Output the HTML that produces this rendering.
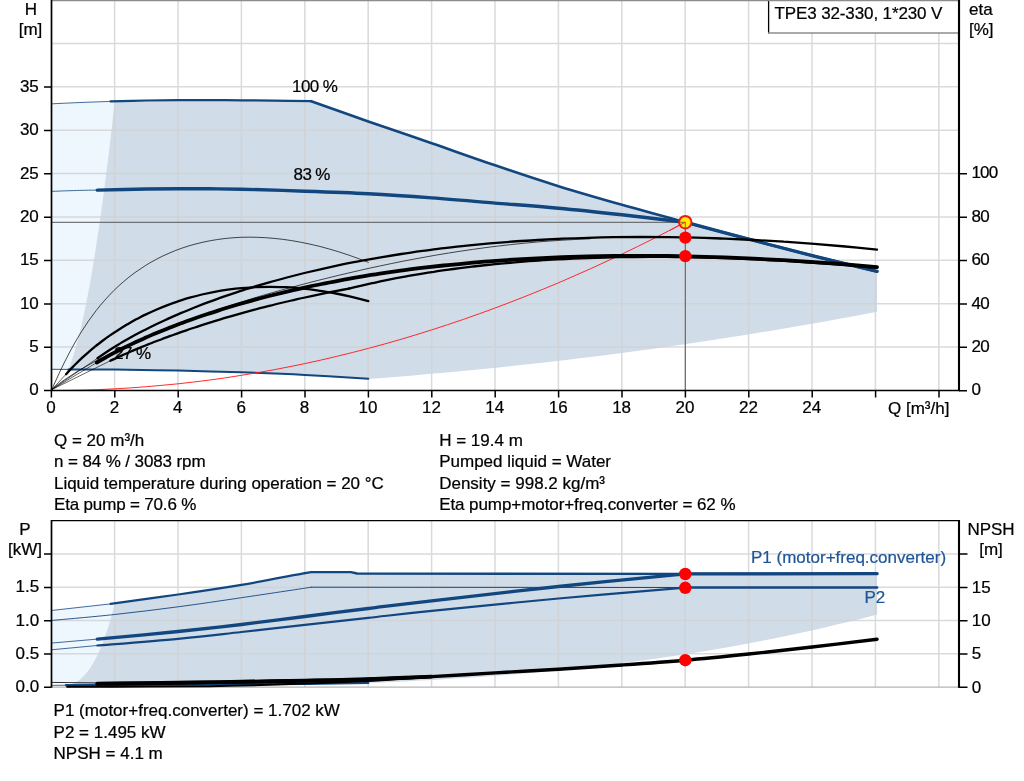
<!DOCTYPE html>
<html lang="en">
<head>
<meta charset="utf-8">
<title>TPE3 32-330, 1*230 V</title>
<style>
html,body{margin:0;padding:0;background:#fff;}
body{width:1024px;height:781px;overflow:hidden;}
svg{display:block;}
</style>
</head>
<body>
<svg width="1024" height="781" viewBox="0 0 1024 781">
<rect x="0" y="0" width="1024" height="781" fill="#ffffff"/>
<path d="M51.3 103.8 L83 102.4 L110.6 101.4 L114.7 101.2 L114.7 101.2 L113.1 115.6 L111.5 129.6 L109.9 143.3 L108.3 156.5 L106.7 169.4 L105.1 182 L103.5 194.2 L101.9 206 L100.3 217.4 L98.7 228.5 L97.1 239.2 L95.5 249.6 L94 259.6 L92.4 269.2 L90.8 278.4 L89.2 287.3 L87.6 295.8 L86 304 L84.4 311.8 L82.8 319.2 L81.2 326.2 L79.6 332.9 L78 339.2 L76.4 345.2 L74.8 350.7 L73.2 356 L71.6 360.8 L70 365.3 L68.4 369.4 L51.3 369.3 Z" fill="#eef6fe"/>
<path d="M110.6 101.4 L112.3 101.3 L114.5 101.3 L117.1 101.2 L120 101.1 L123.2 101.1 L126.5 101 L130 100.9 L133.4 100.8 L136.9 100.7 L140.3 100.6 L143.4 100.6 L146.4 100.5 L149.2 100.5 L151.9 100.4 L154.6 100.4 L157.3 100.4 L159.9 100.3 L162.5 100.3 L165.1 100.3 L167.7 100.2 L170.3 100.2 L172.9 100.2 L175.5 100.2 L178.1 100.2 L180.7 100.2 L183.4 100.1 L186 100.1 L188.7 100.1 L191.3 100.1 L194 100.1 L196.6 100.1 L199.2 100.1 L201.9 100.1 L204.5 100.1 L207.2 100.1 L209.8 100.1 L212.4 100.1 L215.1 100.1 L217.7 100.1 L220.4 100.1 L223 100.1 L225.7 100.1 L228.3 100.2 L230.9 100.2 L233.6 100.2 L236.2 100.2 L238.9 100.2 L241.5 100.3 L244.1 100.3 L246.7 100.3 L249.3 100.3 L251.8 100.4 L254.4 100.4 L257 100.4 L259.5 100.5 L262.2 100.5 L264.8 100.6 L267.5 100.6 L270.3 100.6 L273.2 100.7 L276.3 100.7 L279.6 100.8 L283.2 100.8 L286.8 100.9 L290.5 100.9 L294.2 101 L297.8 101 L301.1 101.1 L304.3 101.1 L307 101.2 L309.4 101.2 L311.2 101.2 L314 102.2 L317.4 103.4 L321.3 104.8 L325.8 106.4 L330.6 108.2 L335.8 110 L341.2 111.9 L346.7 113.9 L352.3 115.9 L357.8 117.8 L363.1 119.7 L368.3 121.5 L373.4 123.3 L378.5 125 L383.7 126.8 L389 128.6 L394.3 130.4 L399.6 132.2 L405 134.1 L410.3 135.9 L415.7 137.7 L421.1 139.5 L426.4 141.4 L431.7 143.2 L437 145 L442.3 146.9 L447.6 148.7 L452.8 150.6 L458.1 152.5 L463.4 154.3 L468.7 156.2 L474 158 L479.2 159.9 L484.5 161.7 L489.8 163.5 L495.1 165.3 L500.4 167.1 L505.7 168.9 L510.9 170.7 L516.2 172.5 L521.5 174.2 L526.8 176 L532.1 177.7 L537.4 179.4 L542.6 181.1 L547.9 182.8 L553.2 184.5 L558.5 186.2 L563.8 187.8 L569.1 189.4 L574.4 191 L579.6 192.6 L584.9 194.1 L590.2 195.7 L595.5 197.2 L600.8 198.8 L606 200.3 L611.3 201.8 L616.6 203.3 L621.9 204.8 L627.2 206.3 L632.5 207.8 L637.8 209.3 L643 210.7 L648.3 212.2 L653.6 213.6 L658.9 215 L664.2 216.5 L669.4 217.9 L674.7 219.3 L680 220.7 L685.3 222.2 L690.6 223.6 L695.9 225 L701.1 226.4 L706.4 227.9 L711.7 229.3 L717 230.7 L722.3 232.1 L727.6 233.5 L732.8 234.9 L738.1 236.3 L743.4 237.7 L748.7 239.1 L754 240.5 L759.2 241.9 L764.5 243.3 L769.8 244.6 L775 246 L780.3 247.4 L785.6 248.8 L790.8 250.1 L796.1 251.5 L801.4 252.9 L806.8 254.2 L812.1 255.6 L817.7 257 L823.6 258.4 L829.8 259.9 L836.1 261.5 L842.4 263 L848.6 264.5 L854.5 265.9 L860.2 267.3 L865.4 268.5 L870 269.7 L873.9 270.6 L877.1 271.4 L877.1 311.8 L864 314.3 L851 316.7 L837.9 319.1 L824.9 321.4 L811.9 323.7 L798.8 326 L785.8 328.2 L772.7 330.4 L759.7 332.6 L746.6 334.7 L733.6 336.8 L720.5 338.8 L707.5 340.8 L694.4 342.8 L681.4 344.7 L668.4 346.6 L655.3 348.4 L642.3 350.2 L629.2 352 L616.2 353.7 L603.1 355.4 L590.1 357 L577 358.6 L564 360.2 L550.9 361.7 L537.9 363.2 L524.8 364.6 L511.8 366 L498.8 367.4 L485.7 368.7 L472.7 370 L459.6 371.3 L446.6 372.5 L433.5 373.6 L420.5 374.8 L407.4 375.9 L394.4 376.9 L381.3 377.9 L368.3 378.9 L368.3 378.8 L365.2 378.6 L361.4 378.3 L356.9 378.1 L351.9 377.7 L346.4 377.4 L340.6 377 L334.5 376.6 L328.4 376.2 L322.2 375.9 L316.2 375.5 L310.4 375.2 L304.9 374.9 L299.6 374.6 L294.3 374.4 L289 374.1 L283.8 373.9 L278.5 373.7 L273.2 373.4 L267.9 373.2 L262.6 373 L257.3 372.8 L252.1 372.6 L246.8 372.5 L241.5 372.3 L236.2 372.1 L230.9 371.9 L225.7 371.8 L220.4 371.6 L215.1 371.5 L209.8 371.4 L204.5 371.2 L199.2 371.1 L193.9 371 L188.7 370.9 L183.4 370.7 L178.1 370.6 L172.8 370.5 L167.3 370.4 L161.8 370.3 L156.3 370.2 L150.8 370.1 L145.3 370 L139.9 369.9 L134.6 369.8 L129.3 369.8 L124.3 369.7 L119.4 369.6 L114.7 369.6 L110.1 369.5 L105.5 369.5 L100.8 369.5 L96.3 369.5 L91.9 369.4 L87.6 369.4 L83.6 369.4 L79.8 369.4 L76.3 369.4 L73.3 369.4 L70.6 369.4 L68.4 369.4 L70 365.3 L71.6 360.8 L73.2 356 L74.8 350.7 L76.4 345.2 L78 339.2 L79.6 332.9 L81.2 326.2 L82.8 319.2 L84.4 311.8 L86 304 L87.6 295.8 L89.2 287.3 L90.8 278.4 L92.4 269.2 L94 259.6 L95.5 249.6 L97.1 239.2 L98.7 228.5 L100.3 217.4 L101.9 206 L103.5 194.2 L105.1 182 L106.7 169.4 L108.3 156.5 L109.9 143.3 L111.5 129.6 L113.1 115.6 L114.7 101.2 Z" fill="#d0dce8"/>
<path d="M51.3 610.5 L110.6 603.9 L114.7 603.3 L114.7 603.9 L113.5 608.6 L112.3 613.1 L111 617.4 L109.8 621.6 L108.6 625.6 L107.4 629.5 L106.2 633.1 L104.9 636.7 L103.7 640 L102.5 643.2 L101.3 646.3 L100.1 649.2 L98.8 652 L97.6 654.6 L96.4 657.1 L95.2 659.5 L94 661.7 L92.8 663.8 L91.5 665.8 L90.3 667.7 L89.1 669.5 L87.9 671.1 L86.7 672.7 L85.4 674.1 L84.2 675.4 L83 676.7 L81.8 677.8 L80.6 678.9 L79.3 679.9 L78.1 680.8 L76.9 681.6 L75.7 682.4 L74.5 682.4 L73.2 682.4 L72 682.4 L70.8 682.4 L69.6 682.4 L68.4 682.4 L67.1 682.4 L51.3 682.4 Z" fill="#eef6fe"/>
<path d="M110.6 603.9 L178.1 594.5 L241.5 584.9 L304.9 573.1 L311.2 572.1 L350.9 572.1 L357.2 573.5 L685.3 573.9 L877.1 573.7 L877.1 614.5 L864 617.9 L851 621.2 L837.9 624.3 L824.9 627.4 L811.9 630.4 L798.8 633.3 L785.8 636 L772.7 638.7 L759.7 641.3 L746.6 643.8 L733.6 646.2 L720.5 648.5 L707.5 650.7 L694.4 652.8 L681.4 654.9 L668.4 656.8 L655.3 658.7 L642.3 660.5 L629.2 662.2 L616.2 663.9 L603.1 665.4 L590.1 666.9 L577 668.4 L564 669.7 L550.9 671 L537.9 672.2 L524.8 673.4 L511.8 674.5 L498.8 675.6 L485.7 676.5 L472.7 677.5 L459.6 678.3 L446.6 679.1 L433.5 679.9 L420.5 680.6 L407.4 681.3 L394.4 681.9 L381.3 682.5 L368.3 683 L67.1 684.8 L68.4 684.8 L69.6 684.8 L70.8 684.7 L72 684.2 L73.2 683.6 L74.5 683 L75.7 682.4 L76.9 681.6 L78.1 680.8 L79.3 679.9 L80.6 678.9 L81.8 677.8 L83 676.7 L84.2 675.4 L85.4 674.1 L86.7 672.7 L87.9 671.1 L89.1 669.5 L90.3 667.7 L91.5 665.8 L92.8 663.8 L94 661.7 L95.2 659.5 L96.4 657.1 L97.6 654.6 L98.8 652 L100.1 649.2 L101.3 646.3 L102.5 643.2 L103.7 640 L104.9 636.7 L106.2 633.1 L107.4 629.5 L108.6 625.6 L109.8 621.6 L111 617.4 L112.3 613.1 L113.5 608.6 L114.7 603.9 Z" fill="#d0dce8"/>
<path d="M114.6 0.5V390M114.6 521V687M178 0.5V390M178 521V687M241.4 0.5V390M241.4 521V687M304.8 0.5V390M304.8 521V687M368.2 0.5V390M368.2 521V687M431.6 0.5V390M431.6 521V687M495 0.5V390M495 521V687M558.4 0.5V390M558.4 521V687M621.8 0.5V390M621.8 521V687M685.2 0.5V390M685.2 521V687M748.6 0.5V390M748.6 521V687M812 0.5V390M812 521V687M875.4 0.5V390M875.4 521V687M938.8 0.5V390M938.8 521V687M52 347.1H959M52 303.7H959M52 260.3H959M52 217H959M52 173.6H959M52 130.2H959M52 86.8H959M52 43.4H959M52 653.8H959M52 620.5H959M52 587.2H959M52 553.9H959" stroke="#cfd1d3" stroke-opacity="0.8" stroke-width="1.5" fill="none"/>
<path d="M51 0.5H960" stroke="#8c8c8c" stroke-width="1.4" fill="none"/>
<path d="M51 687.2H960" stroke="#b4b4b4" stroke-width="1.2" fill="none"/>
<path d="M51.5 222.3 H685.3 V390" stroke="#4a4a4a" stroke-width="0.9" fill="none"/>
<path d="M51.3 103.8 C56.6 103.6 73.1 102.8 83 102.4 C92.9 102 106 101.6 110.6 101.4" stroke="#12467f" stroke-width="0.8" fill="none" stroke-linecap="round" stroke-linejoin="round"/>
<path d="M110.6 101.4 C116.5 101.2 135.1 100.7 146.4 100.5 C157.7 100.3 167.5 100.2 178.1 100.2 C188.7 100.1 199.2 100.1 209.8 100.1 C220.4 100.1 230.9 100.2 241.5 100.3 C252.1 100.4 261.6 100.5 273.2 100.7 C284.8 100.8 304.9 101.1 311.2 101.2 " stroke="#12467f" stroke-width="2.2" fill="none" stroke-linecap="round" stroke-linejoin="round"/>
<path d="M311.2 101.2 C320.8 104.6 348.2 114.5 368.3 121.5 C388.4 128.5 410.6 135.9 431.7 143.2 C452.8 150.5 474 158.2 495.1 165.3 C516.2 172.5 537.4 179.6 558.5 186.2 C579.6 192.7 600.8 198.8 621.9 204.8 C643 210.8 664.2 216.5 685.3 222.2 C706.4 227.9 727.6 233.5 748.7 239.1 C769.8 244.7 790.7 250.2 812.1 255.6 C833.5 261 866.3 268.7 877.1 271.4" stroke="#12467f" stroke-width="2.6" fill="none" stroke-linecap="round" stroke-linejoin="round"/>
<path d="M51.3 191.4 C55.5 191.2 69 190.7 76.7 190.5 C84.3 190.3 93.8 190.1 97.3 190.1" stroke="#12467f" stroke-width="0.8" fill="none" stroke-linecap="round" stroke-linejoin="round"/>
<path d="M97.3 190.1 C105.5 189.9 132.9 189.2 146.4 189 C159.9 188.8 167.5 188.8 178.1 188.8 C188.7 188.7 199.2 188.8 209.8 188.8 C220.4 188.9 225.7 188.8 241.5 189.2 C257.4 189.6 283.8 190.4 304.9 191.2 C326 191.9 347.2 192.6 368.3 193.7 C389.4 194.8 410.6 196.3 431.7 197.9 C452.8 199.4 474 201.3 495.1 203.1 C516.2 204.8 537.4 206.3 558.5 208.3 C579.6 210.2 600.8 212.5 621.9 214.8 C643 217.1 674.7 220.9 685.3 222.2" stroke="#12467f" stroke-width="3.4" fill="none" stroke-linecap="round" stroke-linejoin="round"/>
<path d="M685.3 222.2 C695.9 225 727.6 233.5 748.7 239.1 C769.8 244.7 790.7 250.2 812.1 255.6 C833.5 261 866.3 268.7 877.1 271.4" stroke="#12467f" stroke-width="3.3" fill="none" stroke-linecap="round" stroke-linejoin="round"/>
<path d="M51.3 369.3 L68.4 369.4" stroke="#12467f" stroke-width="0.9" fill="none" stroke-linecap="round" stroke-linejoin="round"/>
<path d="M68.4 369.4 C76.1 369.4 96.4 369.4 114.7 369.6 C133 369.8 157 370.2 178.1 370.6 C199.2 371.1 220.4 371.6 241.5 372.3 C262.6 373 283.8 373.8 304.9 374.9 C326 376 357.7 378.1 368.3 378.8" stroke="#12467f" stroke-width="2.0" fill="none" stroke-linecap="round" stroke-linejoin="round"/>
<path d="M51.3 390.5 L67.1 390.4 L83 390.1 L98.8 389.6 L114.7 388.8 L130.6 387.9 L146.4 386.7 L162.2 385.3 L178.1 383.8 L193.9 382 L209.8 380 L225.6 377.8 L241.5 375.3 L257.3 372.7 L273.2 369.9 L289.1 366.8 L304.9 363.6 L320.8 360.1 L336.6 356.4 L352.4 352.5 L368.3 348.4 L384.1 344.1 L400 339.6 L415.9 334.8 L431.7 329.9 L447.6 324.7 L463.4 319.4 L479.2 313.8 L495.1 308 L510.9 302 L526.8 295.8 L542.6 289.4 L558.5 282.8 L574.3 275.9 L590.2 268.9 L606 261.6 L621.9 254.1 L637.7 246.5 L653.6 238.6 L669.4 230.5 L685.3 222.2" stroke="#ff2020" stroke-width="0.95" fill="none"/>
<path d="M51.8 389.6 C52.3 388.4 53.9 384.9 55.1 382.2 C56.3 379.6 57.6 376.7 59 373.6 C60.5 370.6 62 367.4 63.6 364 C65.3 360.7 67 357.2 68.9 353.7 C70.7 350.2 72.7 346.5 74.8 342.9 C76.8 339.3 79 335.6 81.3 331.9 C83.6 328.3 86 324.6 88.5 321 C91 317.4 93.6 313.9 96.3 310.4 C99 306.9 101.8 303.5 104.8 300.2 C107.7 296.9 110.8 293.6 113.9 290.5 C117.1 287.4 120.3 284.4 123.7 281.5 C127.1 278.6 130.5 275.9 134.1 273.2 C137.7 270.6 141.4 268.1 145.2 265.7 C149 263.3 152.9 261.1 156.9 259 C160.9 256.9 165 254.9 169.3 253.1 C173.5 251.2 177.9 249.5 182.3 248 C186.7 246.5 191.3 245.1 196 243.9 C200.6 242.7 205.4 241.6 210.3 240.7 C215.2 239.8 220.2 239.1 225.2 238.5 C230.3 237.9 235.5 237.6 240.9 237.3 C246.2 237.1 251.6 237.1 257.1 237.3 C262.6 237.5 268.3 237.8 274 238.4 C279.8 238.9 285.6 239.6 291.6 240.6 C297.5 241.6 303.6 242.7 309.8 244.1 C316 245.4 322.3 247 328.6 248.8 C335 250.6 341.5 252.6 348.1 254.9 C354.8 257.1 364.9 261.1 368.3 262.3" stroke="#000" stroke-width="0.7" fill="none" stroke-linecap="round" stroke-linejoin="round"/>
<path d="M51.8 389.6 L66.1 374.2" stroke="#000" stroke-width="0.6" fill="none" stroke-linecap="round" stroke-linejoin="round"/>
<path d="M66.1 374.2 C66.9 373.3 69.2 370.7 70.9 368.9 C72.6 367.1 74.3 365.3 76.2 363.5 C78 361.7 80 359.8 82 357.9 C84 356.1 86.1 354.2 88.3 352.3 C90.4 350.4 92.7 348.5 95 346.6 C97.4 344.8 99.8 342.9 102.3 341 C104.8 339.1 107.4 337.2 110 335.4 C112.7 333.5 115.4 331.7 118.3 329.9 C121.1 328.1 124 326.3 127 324.5 C130 322.8 133.1 321 136.2 319.3 C139.4 317.7 142.6 316 146 314.4 C149.3 312.8 152.7 311.2 156.2 309.7 C159.6 308.2 163.2 306.7 166.9 305.3 C170.5 303.9 174.2 302.6 178.1 301.3 C181.9 300.1 185.8 298.8 189.7 297.7 C193.7 296.6 197.8 295.5 201.9 294.5 C206.1 293.6 210.3 292.7 214.6 291.8 C218.9 291 223.3 290.3 227.7 289.7 C232.2 289.1 236.8 288.5 241.4 288.1 C246 287.7 250.7 287.3 255.5 287.1 C260.3 286.9 265.2 286.8 270.2 286.8 C275.1 286.8 280.2 287 285.3 287.2 C290.4 287.5 295.6 287.8 300.9 288.3 C306.2 288.8 311.6 289.5 317 290.3 C322.5 291 328 292 333.6 293 C339.2 294.1 344.9 295.3 350.7 296.6 C356.5 298 365.4 300.4 368.3 301.2" stroke="#000" stroke-width="2.3" fill="none" stroke-linecap="round" stroke-linejoin="round"/>
<path d="M51.8 389.6 L97.5 358.2" stroke="#000" stroke-width="0.6" fill="none" stroke-linecap="round" stroke-linejoin="round"/>
<path d="M97.5 358.3 C98.9 357.3 103 354.4 105.8 352.5 C108.7 350.6 111.7 348.7 114.8 346.8 C117.9 344.9 121 343 124.3 341.1 C127.6 339.2 131 337.3 134.5 335.3 C138 333.4 141.6 331.6 145.3 329.7 C149 327.8 152.8 325.9 156.7 324 C160.6 322.1 164.6 320.3 168.7 318.4 C172.8 316.6 177 314.7 181.3 312.9 C185.6 311.1 190.1 309.3 194.6 307.5 C199.1 305.7 203.7 303.9 208.4 302.2 C213.1 300.4 218 298.7 222.9 296.9 C227.8 295.2 232.8 293.5 238 291.8 C243.1 290.2 248.3 288.5 253.7 286.9 C259 285.3 264.4 283.7 270 282.1 C275.5 280.5 281.2 279 286.9 277.5 C292.6 276 298.5 274.5 304.4 273 C310.4 271.6 316.4 270.2 322.6 268.8 C328.7 267.4 335 266 341.3 264.7 C347.7 263.4 354.1 262.1 360.7 260.9 C367.3 259.7 373.9 258.5 380.7 257.3 C387.5 256.2 394.3 255.1 401.3 254 C408.3 252.9 415.3 251.9 422.5 250.9 C429.7 250 437 249 444.3 248.2 C451.7 247.3 459.2 246.4 466.8 245.6 C474.4 244.9 482 244.1 489.8 243.4 C497.6 242.8 505.5 242.1 513.5 241.5 C521.5 241 529.6 240.4 537.8 240 C546 239.5 554.3 239.1 562.7 238.7 C571.1 238.3 579.6 238 588.2 237.8 C596.8 237.5 605.5 237.3 614.3 237.2 C623.1 237.1 632 237 641 237 C650.1 237 659.2 237 668.4 237.2 C677.6 237.3 686.9 237.5 696.3 237.7 C705.8 237.9 715.3 238.3 724.9 238.6 C734.6 239 744.3 239.5 754.1 240 C763.9 240.5 773.9 241.1 783.9 241.7 C794 242.4 804.1 243.1 814.3 243.9 C824.6 244.7 834.9 245.6 845.4 246.5 C855.8 247.5 871.7 249.1 877 249.6" stroke="#000" stroke-width="2.3" fill="none" stroke-linecap="round" stroke-linejoin="round"/>
<path d="M51.8 389.6 C52.4 389.1 54 387.7 55.2 386.7 C56.5 385.7 57.9 384.6 59.4 383.5 C60.9 382.4 62.5 381.2 64.2 380 C66 378.8 67.8 377.6 69.8 376.3 C71.7 375 73.8 373.7 76 372.3 C78.2 371 80.5 369.6 83 368.2 C85.4 366.8 88 365.3 90.6 363.8 C93.3 362.4 96.1 360.9 99 359.3 C101.9 357.8 104.9 356.2 108 354.7 C111.2 353.1 114.4 351.5 117.8 349.8 C121.2 348.2 124.7 346.6 128.3 344.9 C131.9 343.2 135.6 341.6 139.4 339.9 C143.3 338.2 147.2 336.5 151.3 334.7 C155.4 333 159.6 331.3 163.9 329.6 C168.2 327.8 172.6 326.1 177.1 324.3 C181.7 322.6 186.3 320.8 191.1 319.1 C195.9 317.3 200.8 315.5 205.8 313.8 C210.8 312 215.9 310.3 221.2 308.5 C226.4 306.8 231.8 305 237.2 303.3 C242.7 301.5 248.3 299.8 254 298 C259.7 296.3 265.6 294.6 271.5 292.9 C277.5 291.2 283.5 289.5 289.7 287.8 C295.9 286.1 302.2 284.5 308.6 282.8 C315 281.1 321.5 279.5 328.2 277.9 C334.8 276.2 341.6 274.6 348.5 273 C355.3 271.4 362.3 269.8 369.5 268.2 C376.6 266.7 383.8 265.1 391.2 263.6 C398.5 262.1 406 260.6 413.6 259.2 C421.1 257.8 428.8 256.4 436.7 255 C444.5 253.7 452.4 252.4 460.5 251.2 C468.5 250 476.7 248.8 485 247.7 C493.2 246.6 501.6 245.6 510.2 244.7 C518.7 243.7 527.3 242.9 536.1 242.1 C544.8 241.4 553.7 240.7 562.7 240.2 C571.7 239.6 585.4 239 590 238.8" stroke="#000" stroke-width="0.7" fill="none" stroke-linecap="round" stroke-linejoin="round"/>
<path d="M51.8 389.6 L96.8 362.5" stroke="#000" stroke-width="0.6" fill="none" stroke-linecap="round" stroke-linejoin="round"/>
<path d="M96.8 362.5 C98.2 361.7 102.2 359.4 105.1 357.8 C108 356.1 110.9 354.5 114 352.9 C117.1 351.3 120.3 349.7 123.5 348 C126.8 346.4 130.2 344.8 133.7 343.1 C137.2 341.5 140.8 339.8 144.5 338.2 C148.1 336.6 151.9 334.9 155.8 333.3 C159.7 331.6 163.7 330 167.8 328.4 C171.9 326.8 176.1 325.1 180.4 323.5 C184.7 321.9 189.2 320.3 193.7 318.7 C198.2 317.1 202.8 315.5 207.5 314 C212.2 312.4 217 310.9 222 309.3 C226.9 307.8 231.9 306.3 237 304.8 C242.2 303.3 247.4 301.8 252.7 300.3 C258.1 298.8 263.5 297.4 269 296 C274.6 294.6 280.2 293.2 286 291.8 C291.7 290.4 297.6 289.1 303.5 287.8 C309.5 286.5 315.5 285.2 321.7 284 C327.8 282.7 334.1 281.5 340.4 280.3 C346.8 279.1 353.3 278 359.8 276.9 C366.4 275.8 373.1 274.7 379.8 273.7 C386.6 272.6 393.5 271.6 400.5 270.7 C407.4 269.7 414.5 268.8 421.7 267.9 C428.9 267.1 436.2 266.3 443.5 265.5 C450.9 264.7 458.4 264 466 263.3 C473.6 262.6 481.3 261.9 489.1 261.3 C496.9 260.7 504.8 260.2 512.8 259.7 C520.8 259.2 528.9 258.7 537.1 258.3 C545.3 257.9 553.6 257.5 562.1 257.2 C570.5 256.9 579 256.7 587.6 256.5 C596.2 256.3 604.9 256.1 613.8 256 C622.6 255.9 631.5 255.9 640.6 255.9 C649.6 255.9 658.7 255.9 668 256 C677.2 256.2 686.5 256.3 696 256.6 C705.4 256.8 715 257.1 724.6 257.4 C734.2 257.8 744 258.2 753.8 258.6 C763.7 259.1 773.7 259.6 783.7 260.2 C793.8 260.8 803.9 261.4 814.2 262.1 C824.5 262.8 834.8 263.6 845.3 264.4 C855.8 265.2 871.7 266.6 877 267.1" stroke="#000" stroke-width="3.8" fill="none" stroke-linecap="round" stroke-linejoin="round"/>
<path d="M51.8 389.6 L110.3 360.8" stroke="#000" stroke-width="0.6" fill="none" stroke-linecap="round" stroke-linejoin="round"/>
<path d="M110.3 360.8 C111.3 360.3 114.1 359 116 358.1 C118 357.2 120 356.3 122 355.4 C124 354.5 126.1 353.6 128.2 352.7 C130.3 351.8 132.4 350.8 134.6 349.9 C136.8 349 139 348.1 141.3 347.1 C143.6 346.2 145.9 345.3 148.2 344.4 C150.6 343.4 153 342.5 155.4 341.5 C157.8 340.6 160.3 339.7 162.8 338.7 C165.3 337.8 167.8 336.9 170.4 335.9 C173 335 175.6 334 178.3 333.1 C181 332.1 183.7 331.2 186.4 330.3 C189.2 329.3 192 328.4 194.8 327.5 C197.6 326.5 200.5 325.6 203.4 324.6 C206.3 323.7 209.2 322.8 212.2 321.9 C215.2 320.9 218.2 320 221.3 319.1 C224.4 318.2 227.5 317.2 230.6 316.3 C233.8 315.4 237 314.5 240.2 313.6 C243.4 312.7 246.7 311.8 250 310.9 C253.3 310 256.6 309.1 260 308.2 C263.4 307.4 266.8 306.5 270.3 305.6 C273.8 304.8 277.3 303.9 280.8 303 C284.4 302.2 288 301.3 291.6 300.5 C295.2 299.7 298.9 298.8 302.6 298 C306.3 297.2 310 296.4 313.8 295.6 C317.6 294.8 321.4 294 325.3 293.2 C329.2 292.4 333.1 291.6 337 290.8 C341 290.1 347 289 349 288.6" stroke="#000" stroke-width="2.3" fill="none" stroke-linecap="round" stroke-linejoin="round"/>
<path d="M349 288.5 C350.9 288.1 356.6 286.7 360.5 285.8 C364.3 284.9 368.2 284 372.2 283.1 C376.1 282.3 380.1 281.4 384.1 280.6 C388.1 279.8 392.1 279 396.2 278.2 C400.2 277.4 404.3 276.7 408.5 275.9 C412.6 275.2 416.8 274.5 421 273.8 C425.2 273.1 429.5 272.4 433.8 271.8 C438.1 271.1 442.4 270.5 446.7 269.9 C451.1 269.3 455.5 268.7 459.9 268.1 C464.3 267.6 468.8 267 473.3 266.5 C477.8 266 482.3 265.5 486.9 265 C491.5 264.5 496.1 264 500.7 263.6 C505.3 263.2 510 262.8 514.7 262.4 C519.4 262 524.2 261.6 529 261.2 C533.7 260.9 538.6 260.5 543.4 260.2 C548.3 259.9 553.1 259.6 558.1 259.4 C563 259.1 568 258.9 572.9 258.6 C577.9 258.4 583 258.2 588 258 C593.1 257.8 598.2 257.7 603.3 257.5 C608.5 257.4 613.6 257.3 618.8 257.2 C624 257.1 629.3 257 634.6 257 C639.8 256.9 645.1 256.9 650.5 256.9 C655.8 256.9 661.2 256.9 666.6 256.9 C672.1 257 677.5 257 683 257.1 C688.5 257.2 694 257.3 699.6 257.4 C705.1 257.5 710.7 257.7 716.4 257.9 C722 258 727.7 258.2 733.4 258.4 C739.1 258.6 744.8 258.9 750.6 259.1 C756.3 259.4 762.2 259.7 768 260 C773.8 260.3 779.7 260.6 785.6 260.9 C791.5 261.3 797.5 261.6 803.5 262 C809.5 262.4 815.5 262.8 821.5 263.3 C827.6 263.7 833.7 264.2 839.8 264.6 C845.9 265.1 852.1 265.6 858.3 266.1 C864.5 266.7 873.9 267.5 877 267.8" stroke="#000" stroke-width="2.3" fill="none" stroke-linecap="round" stroke-linejoin="round"/>
<path d="M51.5 0V391" stroke="#000" stroke-width="1.7" fill="none"/>
<path d="M959 0V391" stroke="#000" stroke-width="2.1" fill="none"/>
<path d="M44 390.5H960" stroke="#000" stroke-width="1.4" fill="none"/>
<path d="M44 347.3H51M44 303.9H51M44 260.5H51M44 217.2H51M44 173.8H51M44 130.4H51M44 87H51M959 390.7H967M959 347.3H967M959 303.9H967M959 260.5H967M959 217.2H967M959 173.8H967M51.4 390V397.5M114.8 390V397.5M178.2 390V397.5M241.6 390V397.5M305 390V397.5M368.4 390V397.5M431.8 390V397.5M495.2 390V397.5M558.6 390V397.5M622 390V397.5M685.4 390V397.5M748.8 390V397.5M812.2 390V397.5M875.6 390V397.5M939 390V397.5" stroke="#000" stroke-width="1.5" fill="none"/>
<circle cx="685.3" cy="222.2" r="6.2" fill="#ffee00" stroke="#f41414" stroke-width="2"/>
<path d="M680.3 222.3H685.3V228.2" stroke="#555" stroke-width="0.8" fill="none"/>
<path d="M669.4 230.5 L685.3 222.2" stroke="#ff2020" stroke-width="0.95" fill="none"/>
<circle cx="685.3" cy="237.6" r="6.2" fill="#ff0000"/>
<circle cx="685.3" cy="256.1" r="6.2" fill="#ff0000"/>
<rect x="768.5" y="0.5" width="190.5" height="32.5" fill="#fff" stroke="none"/>
<path d="M768.6 0V33.4" stroke="#000" stroke-width="1.3" fill="none"/>
<path d="M768 33H959" stroke="#8c8c8c" stroke-width="1.4" fill="none"/>
<path d="M768 0.5H960" stroke="#8c8c8c" stroke-width="1.4" fill="none"/>
<path d="M959 0V40" stroke="#000" stroke-width="2.1" fill="none"/>
<path d="M51.3 610.5 L110.6 603.9" stroke="#12467f" stroke-width="0.8" fill="none" stroke-linecap="round" stroke-linejoin="round"/>
<path d="M110.6 603.9 C121.8 602.3 156.3 597.7 178.1 594.5 C199.9 591.4 220.4 588.4 241.5 584.9 C262.6 581.3 294.3 575 304.9 573.1 " stroke="#12467f" stroke-width="2.2" fill="none" stroke-linecap="round" stroke-linejoin="round"/>
<path d="M304.9 573.1 L311.2 572.1 L350.9 572.1 L357.2 573.5 L685.3 573.9 L877.1 573.7" stroke="#12467f" stroke-width="2.4" fill="none" stroke-linecap="round" stroke-linejoin="round"/>
<path d="M685.3 573.9 L877.1 573.7" stroke="#12467f" stroke-width="3.2" fill="none" stroke-linecap="round" stroke-linejoin="round"/>
<path d="M51.3 620.5 C61.9 619.5 93.6 616.8 114.7 614.5 C135.8 612.2 157 609.6 178.1 606.8 C199.2 604 219.3 601 241.5 597.7 C263.7 594.4 299.6 589 311.2 587.2" stroke="#12467f" stroke-width="0.9" fill="none" stroke-linecap="round" stroke-linejoin="round"/>
<path d="M311.2 587.2 L685.3 587.5" stroke="#12467f" stroke-width="1.0" fill="none" stroke-linecap="round" stroke-linejoin="round"/>
<path d="M685.3 587.5 L877.1 587.5" stroke="#12467f" stroke-width="2.5" fill="none" stroke-linecap="round" stroke-linejoin="round"/>
<path d="M51.3 643.1 L97.3 639.1" stroke="#12467f" stroke-width="0.8" fill="none" stroke-linecap="round" stroke-linejoin="round"/>
<path d="M97.3 639.1 C110.7 637.9 154.1 633.9 178.1 631.5 C202.1 629 220.4 627 241.5 624.5 C262.6 622 283.8 619.2 304.9 616.5 C326 613.8 347.2 611.1 368.3 608.5 C389.4 605.9 400 604.4 431.7 600.8 C463.4 597.1 516.2 591 558.5 586.5 C600.8 582 664.2 576 685.3 573.9" stroke="#12467f" stroke-width="3.3" fill="none" stroke-linecap="round" stroke-linejoin="round"/>
<path d="M51.3 649.8 L97.3 645.5" stroke="#12467f" stroke-width="0.8" fill="none" stroke-linecap="round" stroke-linejoin="round"/>
<path d="M97.3 645.5 C110.7 644.4 154.1 641.1 178.1 638.8 C202.1 636.6 220.4 634.3 241.5 632 C262.6 629.6 283.8 627.2 304.9 624.9 C326 622.5 347.2 620.2 368.3 617.8 C389.4 615.5 400 614.1 431.7 610.9 C463.4 607.7 516.2 602.4 558.5 598.5 C600.8 594.6 664.2 589.4 685.3 587.6" stroke="#12467f" stroke-width="2.2" fill="none" stroke-linecap="round" stroke-linejoin="round"/>
<path d="M51.3 685.4 L65.9 685.2" stroke="#12467f" stroke-width="0.8" fill="none" stroke-linecap="round" stroke-linejoin="round"/>
<path d="M65.9 685.2 L209.8 684.4 L304.9 683.8 L368.3 683" stroke="#12467f" stroke-width="2.2" fill="none" stroke-linecap="round" stroke-linejoin="round"/>
<path d="M51.3 682.4 L97.3 682.9" stroke="#000" stroke-width="0.8" fill="none" stroke-linecap="round" stroke-linejoin="round"/>
<path d="M67.1 686.7 C80.4 686.7 122.6 686.7 146.4 686.6 C170.2 686.5 194 686.4 209.8 686.2 C225.7 686 225.7 686.1 241.5 685.6 C257.4 685.1 283.8 684.3 304.9 683.5 C326 682.7 352.4 681.7 368.3 680.9 C384.2 680.1 389.4 679.5 400 678.9 C410.6 678.2 426.4 677.3 431.7 677" stroke="#000" stroke-width="2.0" fill="none" stroke-linecap="round" stroke-linejoin="round"/>
<path d="M97.3 683.7 C110.7 683.6 154.1 683.1 178.1 682.8 C202.1 682.5 220.4 682.1 241.5 681.8 C262.6 681.4 283.8 681.1 304.9 680.7 C326 680.3 347.2 679.9 368.3 679.2 C389.4 678.5 410.6 677.7 431.7 676.6 C452.8 675.5 474 674.1 495.1 672.9 C516.2 671.7 537.4 670.5 558.5 669.2 C579.6 667.9 600.8 666.5 621.9 665 C643 663.5 664.2 662 685.3 660.2 C706.4 658.4 727.6 656.2 748.7 654 C769.8 651.8 790.7 649.5 812.1 647 C833.5 644.5 866.3 640.5 877.1 639.2" stroke="#000" stroke-width="3.4" fill="none" stroke-linecap="round" stroke-linejoin="round"/>
<path d="M97.3 683.7 C110.7 683.6 154.1 683.1 178.1 682.8 C202.1 682.5 220.4 682.1 241.5 681.8 C262.6 681.4 283.8 681.1 304.9 680.7 C326 680.3 347.2 679.9 368.3 679.2 C389.4 678.5 421.1 677 431.7 676.6" stroke="#000" stroke-width="3.9" fill="none" stroke-linecap="round" stroke-linejoin="round"/>
<path d="M51 520.6H960" stroke="#000" stroke-width="1.3" fill="none"/>
<path d="M51.5 520V687.8" stroke="#000" stroke-width="1.7" fill="none"/>
<path d="M959 520V687.8" stroke="#000" stroke-width="2.1" fill="none"/>
<path d="M44 687.3H51M959 687.3H967.5M44 654H51M959 654H967.5M44 620.7H51M959 620.7H967.5M44 587.4H51M959 587.4H967.5M44 554.1H51M959 554.1H967.5" stroke="#000" stroke-width="1.5" fill="none"/>
<circle cx="685.3" cy="574" r="6.2" fill="#ff0000"/>
<circle cx="685.3" cy="587.8" r="6.2" fill="#ff0000"/>
<circle cx="685.3" cy="660.2" r="6.2" fill="#ff0000"/>
<g font-family="'Liberation Sans', sans-serif" font-size="17px" fill="#000" stroke="#000" stroke-width="0.22">
<text x="31" y="14.7" text-anchor="middle">H</text>
<text x="30.5" y="34.7" text-anchor="middle">[m]</text>
<text x="38.8" y="395.4" text-anchor="end">0</text>
<text x="38.8" y="352" text-anchor="end">5</text>
<text x="38.8" y="308.6" text-anchor="end">10</text>
<text x="38.8" y="265.2" text-anchor="end">15</text>
<text x="38.8" y="221.9" text-anchor="end">20</text>
<text x="38.8" y="178.5" text-anchor="end">25</text>
<text x="38.8" y="135.1" text-anchor="end">30</text>
<text x="38.8" y="91.7" text-anchor="end">35</text>
<text x="51" y="412.6" text-anchor="middle">0</text>
<text x="114.4" y="412.6" text-anchor="middle">2</text>
<text x="177.8" y="412.6" text-anchor="middle">4</text>
<text x="241.2" y="412.6" text-anchor="middle">6</text>
<text x="304.6" y="412.6" text-anchor="middle">8</text>
<text x="368" y="412.6" text-anchor="middle">10</text>
<text x="431.4" y="412.6" text-anchor="middle">12</text>
<text x="494.8" y="412.6" text-anchor="middle">14</text>
<text x="558.2" y="412.6" text-anchor="middle">16</text>
<text x="621.6" y="412.6" text-anchor="middle">18</text>
<text x="685" y="412.6" text-anchor="middle">20</text>
<text x="748.4" y="412.6" text-anchor="middle">22</text>
<text x="811.8" y="412.6" text-anchor="middle">24</text>
<text x="888" y="413.6">Q [m³/h]</text>
<text x="971.5" y="395.3">0</text>
<text x="971.5" y="351.9" textLength="18.2" lengthAdjust="spacing">20</text>
<text x="971.5" y="308.5" textLength="18.2" lengthAdjust="spacing">40</text>
<text x="971.5" y="265.1" textLength="18.2" lengthAdjust="spacing">60</text>
<text x="971.5" y="221.8" textLength="18.2" lengthAdjust="spacing">80</text>
<text x="971.5" y="178.4" textLength="26.6" lengthAdjust="spacing">100</text>
<text x="969" y="14.7">eta</text>
<text x="969" y="34.8">[%]</text>
<text x="774.5" y="18.8" textLength="167.9" lengthAdjust="spacing">TPE3 32-330, 1*230 V</text>
<text x="292" y="91.6" textLength="45.9" lengthAdjust="spacing">100 %</text>
<text x="293.6" y="179.7" textLength="36.8" lengthAdjust="spacing">83 %</text>
<text x="114.3" y="358.6" textLength="36.8" lengthAdjust="spacing">27 %</text>
<text x="54" y="446.1">Q = 20 m³/h</text>
<text x="54" y="467.3" textLength="151.6" lengthAdjust="spacing">n = 84 % / 3083 rpm</text>
<text x="54" y="488.6" textLength="329.7" lengthAdjust="spacing">Liquid temperature during operation = 20 °C</text>
<text x="54" y="510" textLength="142.4" lengthAdjust="spacing">Eta pump = 70.6 %</text>
<text x="439.2" y="446.1">H = 19.4 m</text>
<text x="439.2" y="467.3">Pumped liquid = Water</text>
<text x="439.2" y="488.6">Density = 998.2 kg/m³</text>
<text x="439.2" y="510" textLength="296.3" lengthAdjust="spacing">Eta pump+motor+freq.converter = 62 %</text>
<text x="25" y="535.2" text-anchor="middle">P</text>
<text x="25" y="555" text-anchor="middle">[kW]</text>
<text x="39.2" y="692.1" text-anchor="end">0.0</text>
<text x="39.2" y="658.8" text-anchor="end">0.5</text>
<text x="39.2" y="625.5" text-anchor="end">1.0</text>
<text x="39.2" y="592.2" text-anchor="end">1.5</text>
<text x="991" y="535" text-anchor="middle">NPSH</text>
<text x="991" y="555" text-anchor="middle">[m]</text>
<text x="971.8" y="692.7">0</text>
<text x="971.8" y="659.4">5</text>
<text x="971.8" y="626.1">10</text>
<text x="971.8" y="592.8">15</text>
<text x="751" y="562.6" fill="#1f5596" stroke="#1f5596">P1 (motor+freq.converter)</text>
<text x="864.5" y="602.5" fill="#1f5596" stroke="#1f5596">P2</text>
<text x="53.6" y="716.3">P1 (motor+freq.converter) = 1.702 kW</text>
<text x="53.6" y="737.7">P2 = 1.495 kW</text>
<text x="53.6" y="759">NPSH = 4.1 m</text>
</g>
</svg>
</body>
</html>
